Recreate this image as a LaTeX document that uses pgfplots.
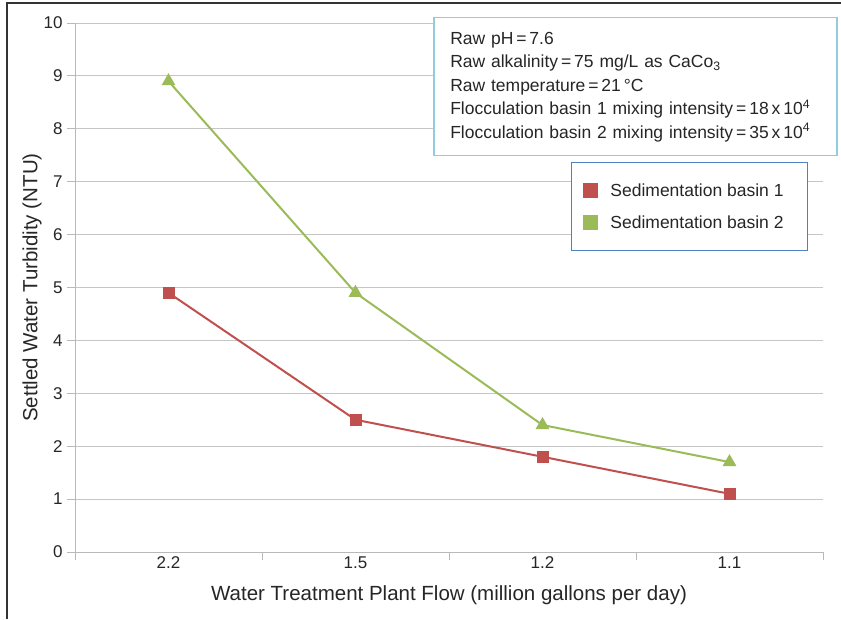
\documentclass[border=0pt]{standalone}
\usepackage{pgfplots}
\pgfplotsset{compat=1.18}
\usepackage{fontspec}
\setmainfont{Liberation Sans}
\definecolor{sred}{HTML}{C0504D}
\definecolor{sgreen}{HTML}{9BBB59}
\definecolor{boxblue}{HTML}{93CDDD}
\definecolor{legblue}{HTML}{4F81BD}
\definecolor{txt}{HTML}{262626}
\begin{document}
\begin{tikzpicture}[x=1pt,y=1pt]
\useasboundingbox (0,0) rectangle (841,619);
\draw[black!80, line width=1.2pt] (7,0) -- (7,616) -- (841,616);
\begin{axis}[
  scale only axis, width=748pt, height=529pt,
  at={(75pt,67pt)}, anchor=south west,
  xmin=-0.5, xmax=3.5, ymin=0, ymax=10,
  ytick={0,1,...,10},
  yticklabels={0,1,2,3,4,5,6,7,8,9,10},
  xtick={-0.5,0.5,1.5,2.5,3.5}, xticklabels={},
  extra x ticks={0,1,2,3}, extra x tick labels={2.2,1.5,1.2,1.1},
  extra x tick style={major tick length=0pt, grid=none},
  ymajorgrids, grid style={gray!45, line width=0.9pt},
  axis x line*=bottom, axis y line*=left,
  axis line style={gray!55, line width=0.9pt},
  tick style={gray!55, line width=0.9pt},
  tick align=outside, major tick length=8pt,
  tick label style={text=txt, font=\fontsize{17}{19}\selectfont},
  yticklabel style={xshift=-1pt},
  xticklabel style={yshift=-1pt},
  xlabel={Water Treatment Plant Flow (million gallons per day)},
  ylabel={Settled Water Turbidity (NTU)},
  label style={font=\fontsize{20.5}{22}\selectfont, text=txt},
  xlabel style={yshift=-2pt},
  ylabel style={yshift=-5pt},
  legend style={at={(rel axis cs:0.663,0.737)}, anchor=north west,
    draw=legblue, line width=1pt, inner xsep=12pt, inner ysep=19pt,
    font=\fontsize{17.5}{19}\selectfont, text=txt, row sep=14pt,
    cells={anchor=west}, nodes={inner xsep=12pt}},
  legend image code/.code={\fill[#1, draw=none] (0pt,-7.5pt) rectangle (15pt,7.5pt);},
]
\addplot[sred, line width=2pt, mark=square*, mark size=5pt, mark options={solid}]
  coordinates {(0,4.9) (1,2.5) (2,1.8) (3,1.1)};
\addlegendentry{Sedimentation basin 1}
\addplot[sgreen, line width=2pt, mark=triangle*, mark size=6pt, mark options={solid}]
  coordinates {(0,8.9) (1,4.9) (2,2.4) (3,1.7)};
\addlegendentry{Sedimentation basin 2}
\end{axis}
\node[draw=boxblue, line width=1.5pt, fill=white, anchor=north west,
  minimum width=403pt, minimum height=138pt, inner xsep=16pt, inner ysep=7pt,
  text=txt, font=\fontsize{17.5}{23.5}\selectfont, align=left, text width=370pt]
  at (433,602) {Raw pH\,=\,7.6\\
Raw alkalinity\,=\,75 mg/L as CaCo\textsubscript{3}\\
Raw temperature\,=\,21\,°C\\
Flocculation basin 1 mixing intensity\,=\,18\,x\,10\textsuperscript{4}\\
Flocculation basin 2 mixing intensity\,=\,35\,x\,10\textsuperscript{4}};
\end{tikzpicture}
\end{document}
